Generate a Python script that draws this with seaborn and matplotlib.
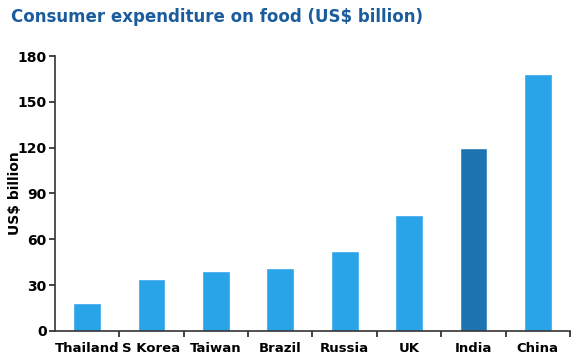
import matplotlib.pyplot as plt
import seaborn as sns
import pandas as pd

# --- Data ---
countries = ['Thailand', 'S Korea', 'Taiwan', 'Brazil', 'Russia', 'UK', 'India', 'China']
spend = [18, 34, 39, 41, 52, 76, 120, 168]
highlight = 'India'

light_blue = '#2aa4e8'
dark_blue = '#1d74b0'

df = pd.DataFrame({'country': countries, 'spend': spend})
palette = {c: (dark_blue if c == highlight else light_blue) for c in countries}

sns.set_theme(style='white')
plt.rcParams['font.family'] = ['DejaVu Sans']

fig = plt.figure(figsize=(5.76, 3.64), dpi=100)
ax = fig.add_axes([0.0955, 0.091, 0.894, 0.755])

sns.barplot(data=df, x='country', y='spend', hue='country', palette=palette,
            width=0.43, saturation=1, legend=False, ax=ax)

ax.set_xlim(-0.5, 7.5)
ax.set_ylim(0, 180)
ax.set_yticks(range(0, 181, 30))
ax.set_xticks([i + 0.5 for i in range(8)], minor=True)
ax.tick_params(axis='x', which='major', length=0, pad=8)
ax.tick_params(axis='x', which='minor', length=4, width=1.2, direction='out', bottom=True)
ax.tick_params(axis='y', length=4, width=1.2, direction='out', left=True, pad=2)

for lab in ax.get_yticklabels():
    lab.set_fontweight('bold')
    lab.set_fontsize(10)
    lab.set_color('black')
for lab in ax.get_xticklabels():
    lab.set_fontweight('bold')
    lab.set_fontsize(9.5)
    lab.set_color('black')

ax.set_xlabel('')
ax.set_ylabel('US$ billion', fontsize=10, fontweight='bold', color='black')
ax.yaxis.label.set_va('center')
ax.yaxis.set_label_coords(-0.078, 0.5)

for side in ['top', 'right']:
    ax.spines[side].set_visible(False)
for side in ['left', 'bottom']:
    ax.spines[side].set_color('#333333')
    ax.spines[side].set_linewidth(1.2)

fig.text(0.019, 0.953, 'Consumer expenditure on food (US$ billion)', fontsize=12,
         fontweight='bold', color='#1a5c9c', ha='left', va='center')

fig.savefig('out.png', dpi=100)
